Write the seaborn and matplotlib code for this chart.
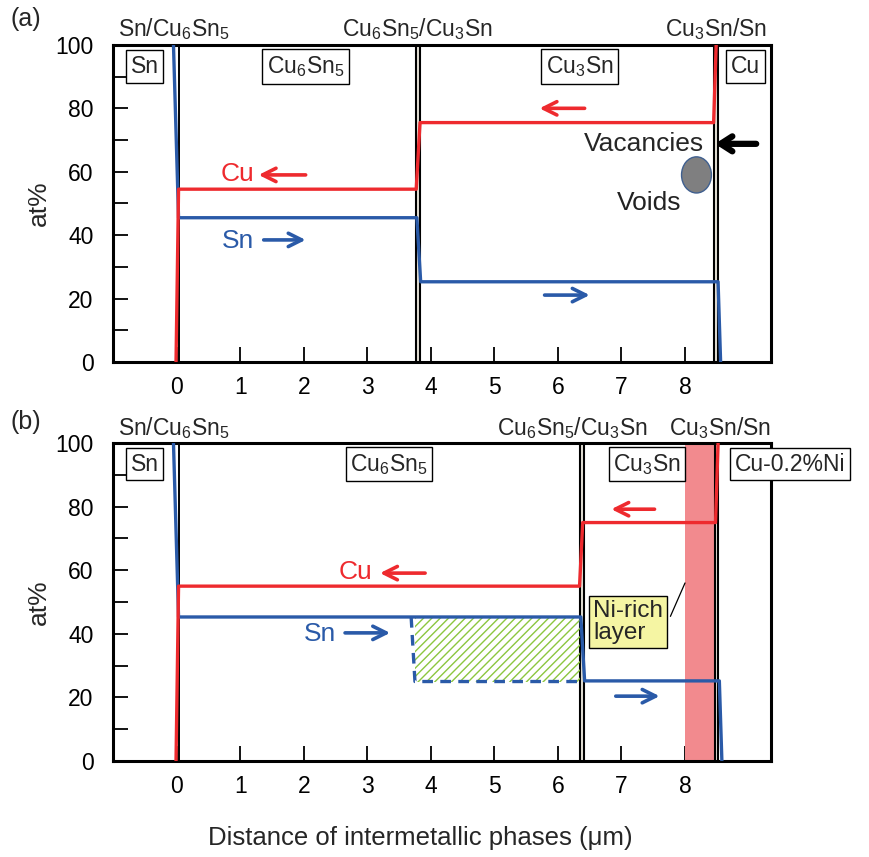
import numpy as np
import pandas as pd
import matplotlib
matplotlib.use("Agg")
import matplotlib.pyplot as plt
import seaborn as sns
from matplotlib.patches import Ellipse
import matplotlib.transforms as mtrans

# ---------------- data ----------------
# panel (a)
a_cu_x = [-0.01, 0.03, 3.77, 3.83, 8.45, 8.49]
a_cu_y = [0, 54.5, 54.5, 75.5, 75.5, 100]
a_sn_x = [-0.05, 0.03, 3.78, 3.84, 8.52, 8.56]
a_sn_y = [100, 45.5, 45.5, 25.3, 25.3, 0]
# panel (b)
b_cu_x = [-0.01, 0.03, 6.34, 6.39, 8.48, 8.52]
b_cu_y = [0, 55, 55, 75, 75, 100]
b_sn_x = [-0.05, 0.03, 6.36, 6.42, 8.54, 8.58]
b_sn_y = [100, 45.3, 45.3, 25.2, 25.2, 0]
b_sn_dash_x = [3.69, 3.75, 6.36]
b_sn_dash_y = [45.3, 25.0, 25.0]
hatch_x = [3.75, 6.34]
hatch_lo = 25.0
hatch_hi = 45.3

a_interfaces = [(3.76, 3.83), (8.46, 8.52)]
b_interfaces = [(6.34, 6.41), (8.47, 8.52)]
ni_layer = (8.0, 8.47)

x_ticks = [0, 1, 2, 3, 4, 5, 6, 7, 8]
y_ticks = [0, 20, 40, 60, 80, 100]
y_minor = [10, 30, 50, 70, 90]

RED = "#ee2a2e"
BLUE = "#2a5aa8"

sns.set_theme(style="ticks")
plt.rcParams["font.family"] = ["Liberation Sans", "DejaVu Sans"]
plt.rcParams["mathtext.default"] = "regular"

fig = plt.figure(figsize=(8.7, 8.57), dpi=100)
axA = fig.add_axes([0.130, 0.5776, 0.756, 0.370])
axB = fig.add_axes([0.130, 0.1120, 0.756, 0.371])

def style_axes(ax):
    ax.set_xlim(-1, 9.35)
    ax.set_ylim(0, 100)
    ax.set_xticks(x_ticks)
    ax.set_yticks(y_ticks)
    ax.set_yticks(y_minor, minor=True)
    ax.tick_params(axis="both", which="both", direction="in", length=11,
                   width=1.3, labelsize=16.5, color="black", labelcolor="black")
    ax.tick_params(axis="x", pad=10)
    ax.tick_params(axis="y", pad=14)
    for s in ax.spines.values():
        s.set_linewidth(2.2)
        s.set_color("black")
    ax.set_ylabel("at%", fontsize=19, labelpad=3)
    ax.set_xlabel("")

def interface(ax, x0, x1):
    ax.axvspan(x0, x1, facecolor="#e6e2d8", edgecolor="none", zorder=1)
    ax.axvline(x0, color="black", lw=1.5, zorder=2)
    ax.axvline(x1, color="black", lw=1.5, zorder=2)

def boxlabel(ax, x, y, s, fs=16.5):
    ax.text(x, y, s, ha="center", va="center", fontsize=fs, zorder=6,
            bbox=dict(boxstyle="square,pad=0.2", fc="white", ec="black", lw=1.0),
            clip_on=False)

def toplabel(ax, x, s):
    tr = mtrans.blended_transform_factory(ax.transData, ax.transAxes)
    ax.text(x, 1.008, s, transform=tr, ha="center", va="bottom", fontsize=16.5)

def arrow(ax, x0, x1, y, color, lw=2.6, hl=0.8, hw=0.4):
    ax.annotate("", xy=(x1, y), xytext=(x0, y),
                arrowprops=dict(arrowstyle=f"->,head_length={hl},head_width={hw}",
                                color=color, lw=lw, shrinkA=0, shrinkB=0), zorder=7)

# ---------------- panel (a) ----------------
ax = axA
for x0, x1 in a_interfaces:
    interface(ax, x0, x1)
ax.axvline(0.03, color="black", lw=1.4, zorder=2)
sns.lineplot(x=a_cu_x, y=a_cu_y, ax=ax, color=RED, lw=2.4, zorder=4)
sns.lineplot(x=a_sn_x, y=a_sn_y, ax=ax, color=BLUE, lw=2.4, zorder=3)
style_axes(ax)
boxlabel(ax, -0.5, 93.2, "Sn")
boxlabel(ax, 2.03, 93.2, "Cu$_6$Sn$_5$")
boxlabel(ax, 6.34, 93.2, "Cu$_3$Sn")
boxlabel(ax, 8.95, 93.2, "Cu")
toplabel(ax, -0.05, "Sn/Cu$_6$Sn$_5$")
toplabel(ax, 3.78, "Cu$_6$Sn$_5$/Cu$_3$Sn")
toplabel(ax, 8.49, "Cu$_3$Sn/Sn")
ax.text(0.96, 59.3, "Cu", color=RED, fontsize=19, ha="center", va="center")
arrow(ax, 2.03, 1.29, 59.0, RED)
ax.text(0.96, 38.2, "Sn", color=BLUE, fontsize=19, ha="center", va="center")
arrow(ax, 1.37, 2.03, 38.5, BLUE)
arrow(ax, 6.42, 5.71, 80.0, RED)
arrow(ax, 5.79, 6.5, 21.1, BLUE)
ax.text(7.36, 68.8, "Vacancies", fontsize=19, ha="center", va="center", zorder=6)
arrow(ax, 9.12, 8.47, 68.8, "black", lw=4.5, hl=0.7, hw=0.45)
ax.add_patch(Ellipse((8.18, 59.0), 0.47, 11.4, fc="#7f7f80", ec="#3f5f8f", lw=1, zorder=6))
ax.text(7.44, 50.2, "Voids", fontsize=19, ha="center", va="center", color="#222222")
fig.text(0.012, 0.978, "(a)", fontsize=18, ha="left", va="center")

# ---------------- panel (b) ----------------
ax = axB
ax.axvspan(ni_layer[0], ni_layer[1], facecolor="#f28a8e", edgecolor="none", zorder=1)
for x0, x1 in b_interfaces:
    interface(ax, x0, x1)
ax.axvline(0.03, color="black", lw=1.4, zorder=2)
ax.fill_between(hatch_x, [hatch_lo] * 2, [hatch_hi] * 2, facecolor="none",
                edgecolor="#8cc63f", hatch="////", lw=0, zorder=2)
sns.lineplot(x=b_cu_x, y=b_cu_y, ax=ax, color=RED, lw=2.4, zorder=4)
sns.lineplot(x=b_sn_x, y=b_sn_y, ax=ax, color=BLUE, lw=2.4, zorder=3)
sns.lineplot(x=b_sn_dash_x, y=b_sn_dash_y, ax=ax, color=BLUE, lw=2.4,
             linestyle=(0, (3.2, 2.2)), zorder=3)
style_axes(ax)
boxlabel(ax, -0.5, 93.4, "Sn")
boxlabel(ax, 3.34, 93.4, "Cu$_6$Sn$_5$")
boxlabel(ax, 7.4, 93.4, "Cu$_3$Sn")
boxlabel(ax, 9.65, 93.4, "Cu-0.2%Ni")
toplabel(ax, -0.05, "Sn/Cu$_6$Sn$_5$")
toplabel(ax, 6.22, "Cu$_6$Sn$_5$/Cu$_3$Sn")
toplabel(ax, 8.55, "Cu$_3$Sn/Sn")
ax.text(2.81, 59.4, "Cu", color=RED, fontsize=19, ha="center", va="center")
arrow(ax, 3.91, 3.2, 59.1, RED)
ax.text(2.26, 39.9, "Sn", color=BLUE, fontsize=19, ha="center", va="center")
arrow(ax, 2.65, 3.36, 40.3, BLUE)
arrow(ax, 7.52, 6.84, 79.2, RED)
arrow(ax, 6.91, 7.6, 20.4, BLUE)
ax.plot([7.77, 8.0], [45.5, 56.0], color="black", lw=0.9, zorder=5)
ax.text(6.55, 43.7, "Ni-rich\nlayer", fontsize=17.5, ha="left", va="center",
        linespacing=1.0, zorder=6,
        bbox=dict(boxstyle="square,pad=0.15", fc="#f5f5a3", ec="black", lw=1.0))
fig.text(0.012, 0.508, "(b)", fontsize=18, ha="left", va="center")

fig.text(0.483, 0.022, "Distance of intermetallic phases (μm)", fontsize=18.5,
         ha="center", va="center")

fig.savefig("out.png", dpi=100)
